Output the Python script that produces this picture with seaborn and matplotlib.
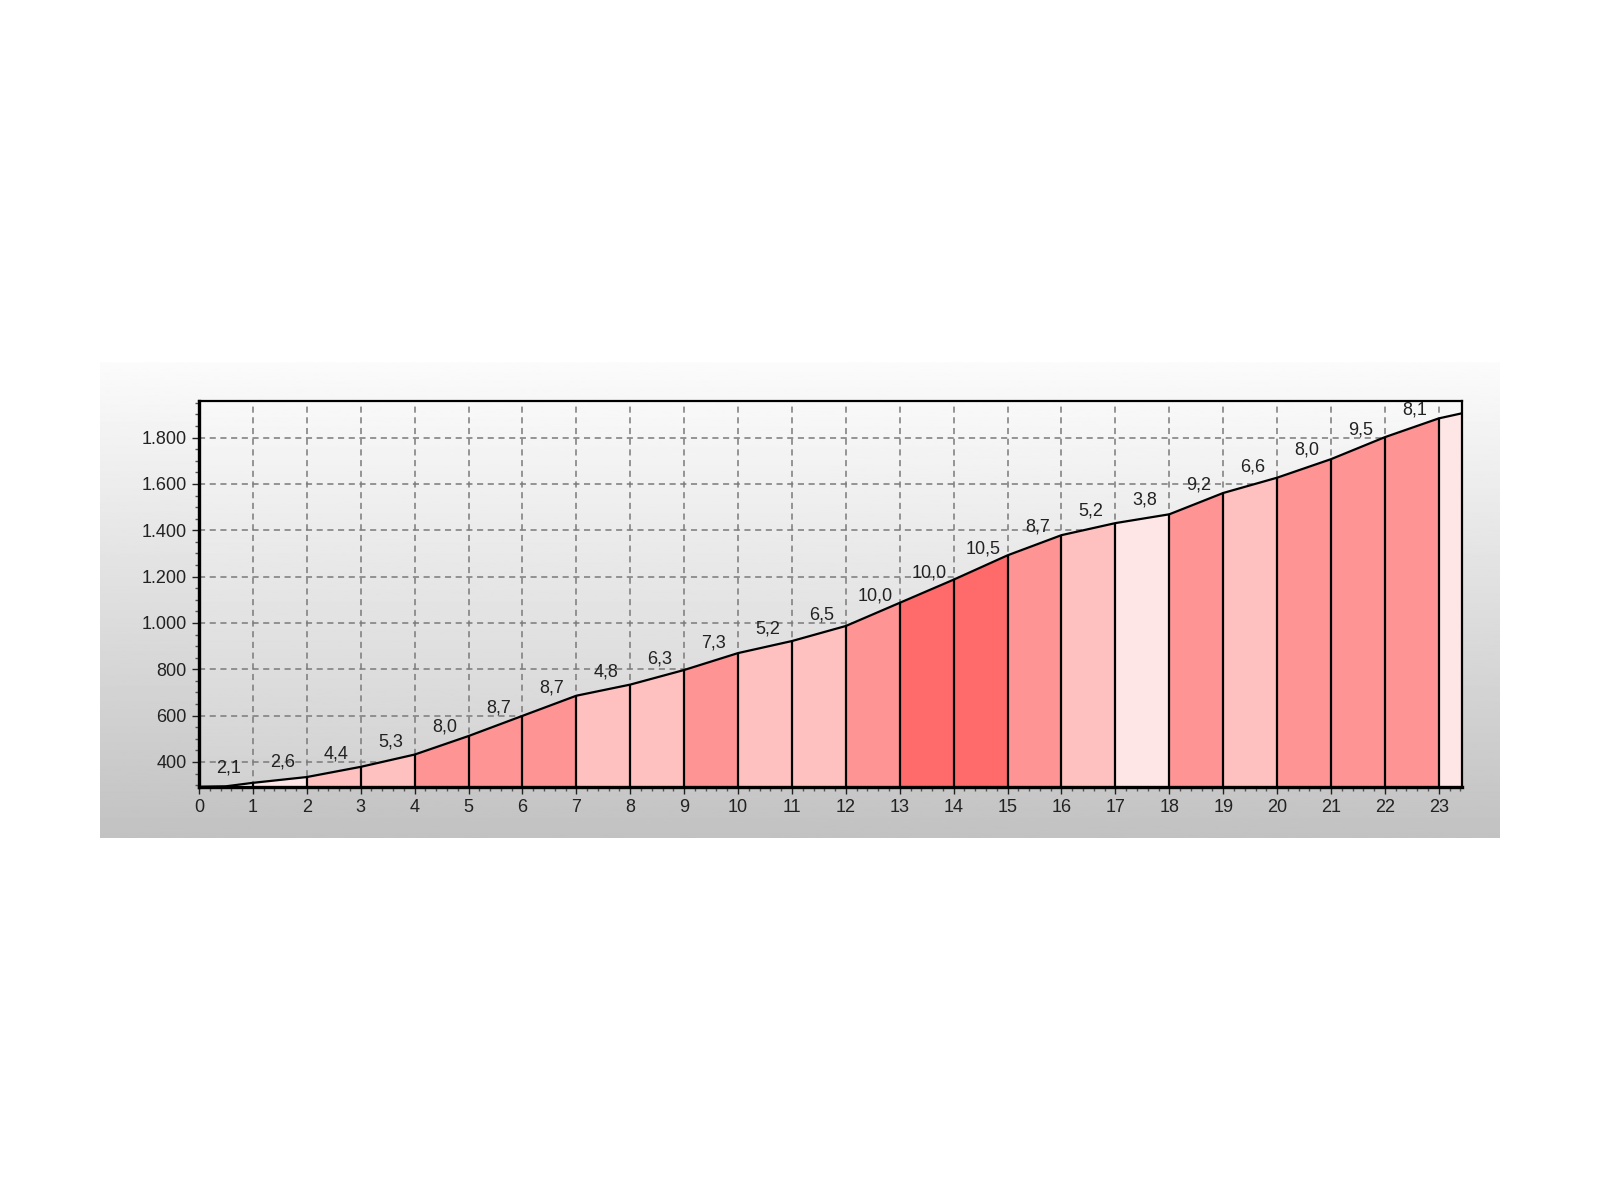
import seaborn as sns
import matplotlib.pyplot as plt
import matplotlib.ticker as mticker
import numpy as np
import pandas as pd

# profile points (km, metres)
km = [0, 0.5, 1, 2, 3, 4, 5, 6, 7, 8, 9, 10, 11, 12, 13, 14, 15, 16, 17, 18,
      19, 20, 21, 22, 23, 23.43]
elevation = [293, 295, 310, 335, 379, 432, 512, 599, 686, 734, 797, 870, 922,
             987, 1087, 1187, 1292, 1379, 1431, 1469, 1561, 1627, 1707, 1802,
             1883, 1905]

# segment edges, gradient class per segment and the printed gradients
seg_edges = [0, 1, 2, 3, 4, 5, 6, 7, 8, 9, 10, 11, 12, 13, 14, 15, 16, 17, 18,
             19, 20, 21, 22, 23, 23.43]
seg_class = [0, 1, 2, 2, 3, 3, 3, 2, 2, 3, 2, 2, 3, 4, 4, 3, 2, 1, 3, 2, 3, 3,
             3, 1]
grade_labels = ['2,1', '2,6', '4,4', '5,3', '8,0', '8,7', '8,7', '4,8', '6,3',
                '7,3', '5,2', '6,5', '10,0', '10,0', '10,5', '8,7', '5,2',
                '3,8', '9,2', '6,6', '8,0', '9,5', '8,1']

palette = {0: '#FFFFFF', 1: '#FFE6E6', 2: '#FFC0C0', 3: '#FF9494', 4: '#FF6A6A'}

profile = pd.DataFrame({'km': km, 'elevation': elevation})

sns.set_style('ticks')
plt.rcParams['font.family'] = ['Liberation Sans', 'DejaVu Sans']

fig = plt.figure(figsize=(16, 12), dpi=100)
fig.patch.set_facecolor('white')

# grey gradient panel behind the chart
panel = fig.add_axes([100 / 1600, 1 - 838 / 1200, 1400 / 1600, 476 / 1200])
panel.imshow(np.linspace(0.985, 0.76, 256).reshape(-1, 1), cmap='gray',
             vmin=0, vmax=1, aspect='auto', extent=[0, 1, 0, 1])
panel.set_axis_off()

ax = fig.add_axes([199 / 1600, 1 - 787 / 1200, 1263 / 1600, 386 / 1200])
ymin, ymax = 292, 1958
xmax = seg_edges[-1]

ax.imshow(np.linspace(0.975, 0.82, 256).reshape(-1, 1), cmap='gray',
          vmin=0, vmax=1, aspect='auto', extent=[0, xmax, ymin, ymax], zorder=0)

# coloured segments
for i, cls in enumerate(seg_class):
    lo, hi = seg_edges[i], seg_edges[i + 1]
    part = profile[(profile['km'] >= lo) & (profile['km'] <= hi)]
    ax.fill_between(part['km'], ymin, part['elevation'],
                    color=palette[cls], linewidth=0, zorder=2)

# segment boundary lines
inner = profile[profile['km'].isin(seg_edges[1:-1])]
ax.vlines(inner['km'], ymin, inner['elevation'], color='black', lw=1.6, zorder=3)

sns.lineplot(data=profile, x='km', y='elevation', color='black', lw=1.6,
             ax=ax, zorder=4)

# gradient labels
for i, lab in enumerate(grade_labels):
    lo, hi = seg_edges[i], seg_edges[i + 1]
    mid = np.interp((lo + hi) / 2, km, elevation)
    ax.annotate(lab, xy=(lo + 0.55, mid), xytext=(0, 7),
                textcoords='offset points', ha='center', va='bottom',
                fontsize=13, color='#222222', zorder=5)

ax.set_xlim(0, xmax)
ax.set_ylim(ymin, ymax)
ax.set_xticks(range(0, 24))
ax.set_yticks(range(400, 1801, 200))
ax.xaxis.set_minor_locator(mticker.MultipleLocator(0.2))
ax.yaxis.set_minor_locator(mticker.MultipleLocator(50))
ax.yaxis.set_major_formatter(
    mticker.FuncFormatter(lambda v, p: f'{int(v):,}'.replace(',', '.')))

ax.grid(True, which='major', color='#7A7A7A', linestyle=(0, (4, 3)), lw=1.1,
        zorder=1)
ax.set_axisbelow(True)
ax.tick_params(which='major', length=5, width=1, labelsize=13,
               colors='#222222', pad=4)
ax.tick_params(which='minor', length=3, width=1, color='#555555')
for s in ax.spines.values():
    s.set_color('black')
    s.set_linewidth(1.6)
    s.set_visible(True)
ax.spines['left'].set_linewidth(2.4)
ax.spines['bottom'].set_linewidth(2.4)
ax.set_xlabel('')
ax.set_ylabel('')

fig.savefig('out.png', dpi=100)
